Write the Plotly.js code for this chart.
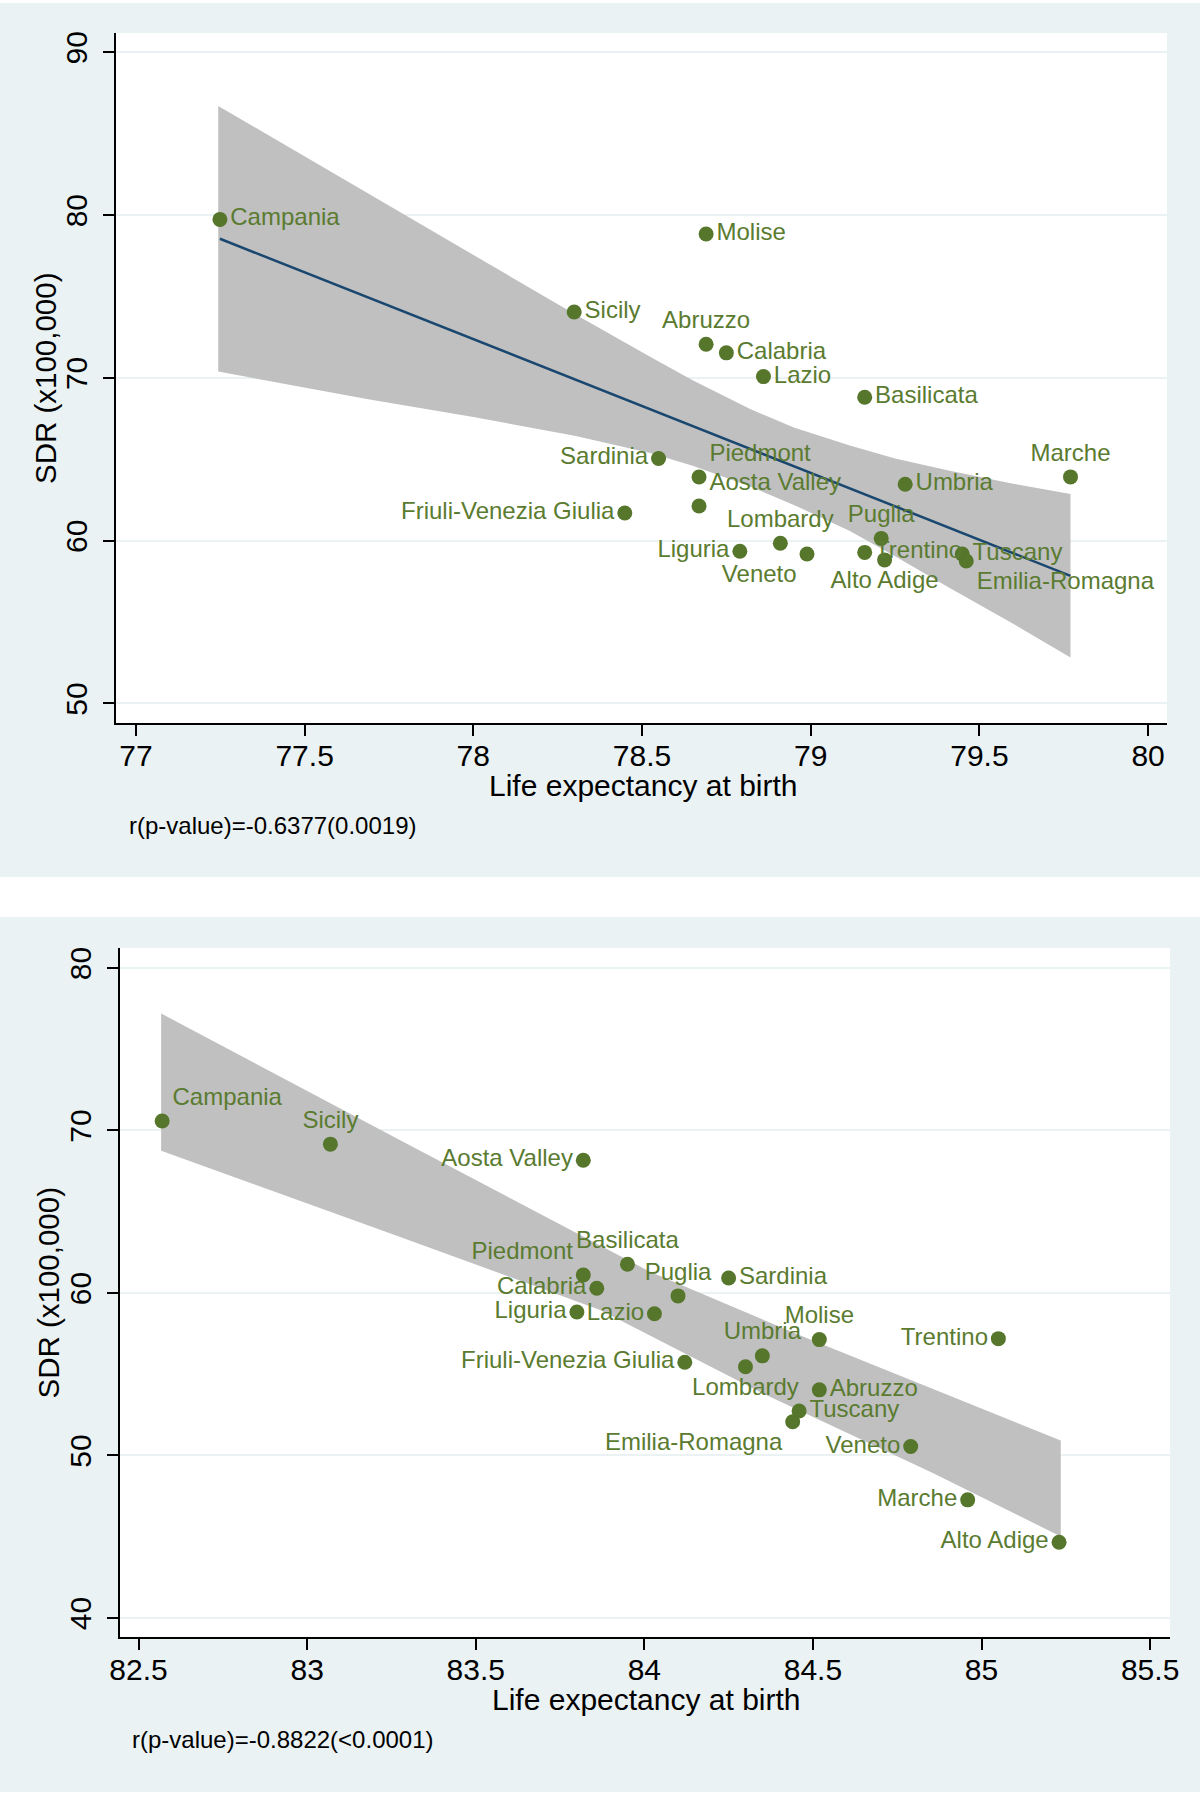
<!DOCTYPE html>
<html><head><meta charset="utf-8">
<script src="https://cdn.plot.ly/plotly-3.0.1.min.js"></script>
<style>
html,body{margin:0;padding:0;background:#ffffff;}
#p1{position:absolute;left:0;top:3px;width:1200px;height:874px;}
#p2{position:absolute;left:0;top:917px;width:1200px;height:875px;}
</style></head><body>
<div id="p1"></div><div id="p2"></div>
<script>
// ---------- Panel 1 data ----------
const regions1 = ["Campania","Molise","Sicily","Abruzzo","Calabria","Lazio","Basilicata","Sardinia","Piedmont","Aosta Valley","Friuli-Venezia Giulia","Liguria","Lombardy","Veneto","Puglia","Trentino","Alto Adige","Umbria","Marche","Tuscany","Emilia-Romagna"];
const lifeExp1 = [77.249,78.690,78.299,78.690,78.750,78.860,79.160,78.549,78.669,78.669,78.449,78.790,78.910,78.989,79.209,79.160,79.219,79.280,79.770,79.449,79.461];
const sdr1     = [79.74,78.84,74.05,72.07,71.54,70.08,68.81,65.05,63.91,62.13,61.70,59.35,59.84,59.18,60.14,59.28,58.82,63.47,63.92,59.18,58.75];
const fitX1 = [77.249,79.770];
const fitY1 = [78.55,57.84];
const bandUpperX1 = [77.244,77.684,78.000,78.299,78.524,78.650,78.819,78.950,79.116,79.250,79.412,79.600,79.770];
const bandUpper1  = [86.71,81.39,77.55,73.94,71.30,69.85,68.10,66.95,65.85,65.05,64.30,63.50,62.87];
const bandLowerX1 = [77.244,77.684,78.000,78.300,78.524,78.650,78.819,78.950,79.116,79.250,79.412,79.600,79.770];
const bandLower1  = [70.39,68.71,67.60,66.45,65.38,64.60,63.35,62.20,60.60,59.05,57.10,54.90,52.82];
const xTicks1 = [77,77.5,78,78.5,79,79.5,80];
const yTicks1 = [50,60,70,80,90];
const note1 = "r(p-value)=-0.6377(0.0019)";

// ---------- Panel 2 data ----------
const regions2 = ["Campania","Sicily","Aosta Valley","Piedmont","Calabria","Liguria","Basilicata","Lazio","Puglia","Sardinia","Molise","Trentino","Friuli-Venezia Giulia","Umbria","Lombardy","Abruzzo","Tuscany","Emilia-Romagna","Veneto","Marche","Alto Adige"];
const lifeExp2 = [82.570,83.069,83.819,83.819,83.859,83.800,83.950,84.030,84.100,84.250,84.519,85.050,84.120,84.350,84.300,84.519,84.459,84.440,84.790,84.959,85.230];
const sdr2     = [70.58,69.16,68.17,61.11,60.29,58.83,61.77,58.72,59.82,60.92,57.13,57.19,55.74,56.13,55.46,54.04,52.74,52.08,50.55,47.27,44.66];
const bandUpperX2 = [82.567,83.276,84.017,84.461,85.235];
const bandUpper2  = [77.20,69.40,61.30,57.40,50.92];
const bandLowerX2 = [82.567,83.276,83.869,84.363,84.857,85.235];
const bandLower2  = [68.75,63.45,58.96,53.70,48.90,45.02];
const xTicks2 = [82.5,83,83.5,84,84.5,85,85.5];
const yTicks2 = [40,50,60,70,80];
const note2 = "r(p-value)=-0.8822(<0.0001)";

const xTitle = "Life expectancy at birth";
const yTitle = "SDR (x100,000)";

// ---------- label placement (style) ----------
const place1 = {"Campania":"middle right","Molise":"middle right","Sicily":"middle right","Abruzzo":"top center","Calabria":"middle right","Lazio":"middle right","Basilicata":"middle right","Sardinia":"middle left","Piedmont":"top right","Aosta Valley":"top right","Friuli-Venezia Giulia":"middle left","Liguria":"middle left","Lombardy":"top center","Veneto":"bottom left","Puglia":"top center","Trentino":"middle right","Alto Adige":"bottom center","Umbria":"middle right","Marche":"top center","Tuscany":"middle right","Emilia-Romagna":"bottom right"};
const place2 = {"Campania":"top right","Sicily":"top center","Aosta Valley":"middle left","Piedmont":"top left","Calabria":"middle left","Liguria":"middle left","Basilicata":"top center","Lazio":"middle left","Puglia":"top center","Sardinia":"middle right","Molise":"top center","Trentino":"middle left","Friuli-Venezia Giulia":"middle left","Umbria":"top center","Lombardy":"bottom center","Abruzzo":"middle right","Tuscany":"middle right","Emilia-Romagna":"bottom left","Veneto":"middle left","Marche":"middle left","Alto Adige":"middle left"};

const FONT = "Liberation Sans, Arial, Helvetica, sans-serif";
const GREEN = "#55762b";
const TEXTGREEN = "#5a7b30";
const BG = "#eaf2f3";

function bandTrace(ux, uy, lx, ly) {
  return {
    type: "scatter", mode: "lines",
    x: ux.concat(lx.slice().reverse()),
    y: uy.concat(ly.slice().reverse()),
    fill: "toself", fillcolor: "#c0c0c0",
    line: {width: 0, color: "rgba(0,0,0,0)"},
    hoverinfo: "skip"
  };
}
function pointsTrace(x, y, names, place) {
  return {
    type: "scatter", mode: "markers+text",
    x: x, y: y, text: names,
    textposition: names.map(n => place[n]),
    textfont: {family: FONT, size: 24, color: TEXTGREEN},
    marker: {size: 15, color: GREEN, line: {width: 0}},
    cliponaxis: false
  };
}
function layoutFor(o) {
  const pw = 1200 - o.l - o.r, ph = o.h - o.t - o.b;
  return {
    width: 1200, height: o.h,
    margin: {l: o.l, r: o.r, t: o.t, b: o.b, pad: 0},
    paper_bgcolor: BG, plot_bgcolor: "#ffffff",
    showlegend: false,
    font: {family: FONT, color: "#000"},
    xaxis: {
      range: o.xr, tickvals: o.xt, ticktext: o.xt.map(String),
      showline: true, linecolor: "#000", linewidth: 2,
      ticks: "outside", ticklen: 11, tickwidth: 2, tickcolor: "#000",
      showgrid: false, zeroline: false,
      tickfont: {family: FONT, size: 30, color: "#000"},
      ticklabelstandoff: -6
    },
    yaxis: {
      range: o.yr, tickvals: o.yt, ticktext: o.yt.map(String),
      showline: true, linecolor: "#000", linewidth: 2,
      ticks: "outside", ticklen: 11, tickwidth: 2, tickcolor: "#000",
      showgrid: true, gridcolor: BG, gridwidth: 2, zeroline: false,
      tickangle: -90,
      tickfont: {family: FONT, size: 30, color: "#000"},
      ticklabelstandoff: 4
    },
    annotations: [
      {xref: "paper", yref: "paper", x: (o.xtc - o.l) / pw, y: 1 - (o.xty - o.t) / ph,
       xanchor: "center", yanchor: "middle", showarrow: false,
       text: xTitle, font: {family: FONT, size: 30, color: "#000"}},
      {xref: "paper", yref: "paper", x: (o.ytx - o.l) / pw, y: 0.5,
       xanchor: "center", yanchor: "middle", showarrow: false, textangle: -90,
       text: yTitle, font: {family: FONT, size: 29.5, color: "#000"}},
      {xref: "paper", yref: "paper", x: (o.nx - o.l) / pw, y: 1 - (o.ny - o.t) / ph,
       xanchor: "left", yanchor: "middle", showarrow: false,
       text: o.note, font: {family: FONT, size: 24, color: "#000"}}
    ]
  };
}

const cfg = {displayModeBar: false, staticPlot: true};

Plotly.newPlot("p1", [
  bandTrace(bandUpperX1, bandUpper1, bandLowerX1, bandLower1),
  {type: "scatter", mode: "lines", x: fitX1, y: fitY1, line: {color: "#1a476f", width: 2.5}, hoverinfo: "skip"},
  pointsTrace(lifeExp1, sdr1, regions1, place1)
], layoutFor({h: 874, l: 116, r: 32.5, t: 30.3, b: 154.3,
  xr: [76.941, 80.056], yr: [48.8, 91.19], xt: xTicks1, yt: yTicks1,
  xtc: 644, xty: 782, ytx: 45, nx: 127.4, ny: 822, note: note1}), cfg);

Plotly.newPlot("p2", [
  bandTrace(bandUpperX2, bandUpper2, bandLowerX2, bandLower2),
  pointsTrace(lifeExp2, sdr2, regions2, place2)
], layoutFor({h: 875, l: 119.8, r: 29.8, t: 30.7, b: 154.7,
  xr: [82.445, 85.559], yr: [38.83, 81.23], xt: xTicks2, yt: yTicks2,
  xtc: 647, xty: 783, ytx: 47.8, nx: 130, ny: 823, note: note2}), cfg);
</script>
</body></html>
